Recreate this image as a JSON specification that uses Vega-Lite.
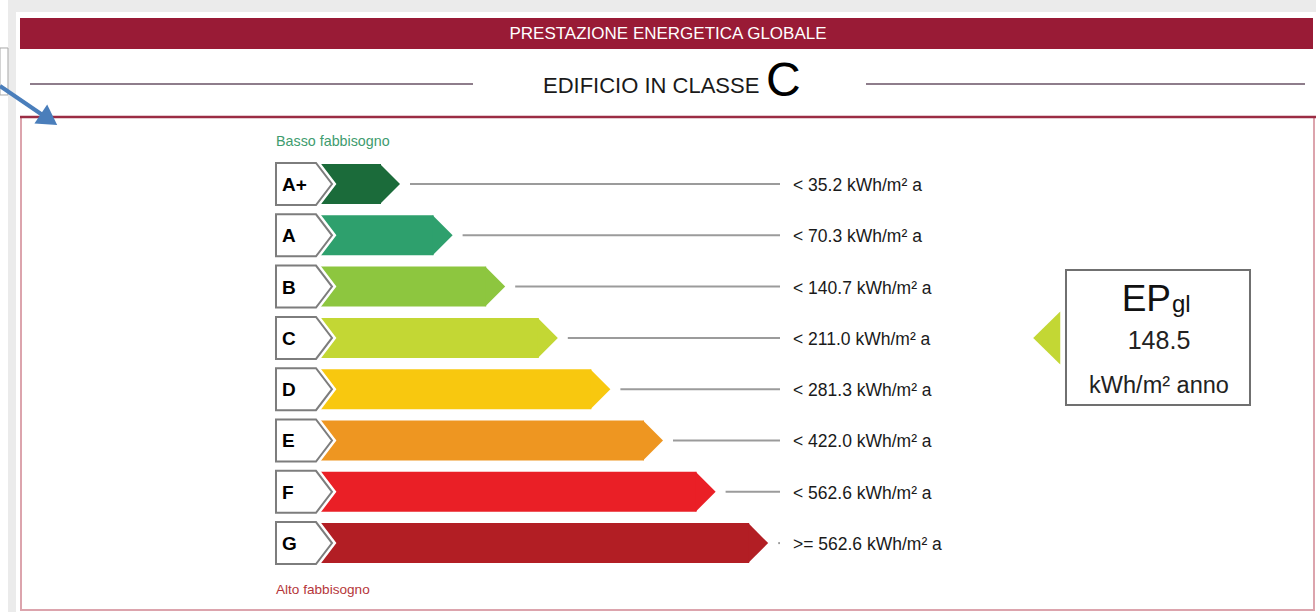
{
  "$schema": "https://vega.github.io/schema/vega-lite/v6.json",
  "width": 1316,
  "height": 612,
  "autosize": "none",
  "padding": 0,
  "background": "#ffffff",
  "view": {"stroke": null},
  "config": {"text": {"font": "Liberation Sans"}},
  "datasets": {
    "classes": [
      {"cls": "A+", "rank": 1, "limit": 35.2, "label": "< 35.2 kWh/m² a"},
      {"cls": "A", "rank": 2, "limit": 70.3, "label": "< 70.3 kWh/m² a"},
      {"cls": "B", "rank": 3, "limit": 140.7, "label": "< 140.7 kWh/m² a"},
      {"cls": "C", "rank": 4, "limit": 211.0, "label": "< 211.0 kWh/m² a"},
      {"cls": "D", "rank": 5, "limit": 281.3, "label": "< 281.3 kWh/m² a"},
      {"cls": "E", "rank": 6, "limit": 422.0, "label": "< 422.0 kWh/m² a"},
      {"cls": "F", "rank": 7, "limit": 562.6, "label": "< 562.6 kWh/m² a"},
      {"cls": "G", "rank": 8, "limit": 562.6, "label": ">= 562.6 kWh/m² a"}
    ],
    "ep": [
      {"cls": "C", "rank": 4, "value": 148.5, "unit": "kWh/m² anno"}
    ]
  },
  "data": {"values": [{}]},
  "layer": [
    {
      "mark": {"type": "rect", "fill": "#ebebeb"},
      "encoding": {
        "x": {"datum": -6.0913, "type": "quantitative", "scale": {"domain": [-6.2433, 18.7757], "nice": false, "zero": false}, "axis": null},
        "x2": {"datum": 18.7757},
        "y": {"datum": -2.5867, "type": "quantitative", "scale": {"domain": [-2.5867, 9.3431], "nice": false, "zero": false, "reverse": true}, "axis": null},
        "y2": {"datum": 9.3431}
      }
    },
    {
      "mark": {"type": "rect", "fill": "#ffffff"},
      "encoding": {
        "x": {"datum": -5.9392, "type": "quantitative", "scale": {"domain": [-6.2433, 18.7757], "nice": false, "zero": false}, "axis": null},
        "x2": {"datum": 18.7757},
        "y": {"datum": -2.3528, "type": "quantitative", "scale": {"domain": [-2.5867, 9.3431], "nice": false, "zero": false, "reverse": true}, "axis": null},
        "y2": {"datum": 9.3431}
      }
    },
    {
      "mark": {"type": "rect", "fill": "#ffffff", "stroke": "#a8a8a8", "strokeWidth": 1},
      "encoding": {
        "x": {"datum": -6.2433, "type": "quantitative", "scale": {"domain": [-6.2433, 18.7757], "nice": false, "zero": false}, "axis": null},
        "x2": {"datum": -6.0913},
        "y": {"datum": -1.6511, "type": "quantitative", "scale": {"domain": [-2.5867, 9.3431], "nice": false, "zero": false, "reverse": true}, "axis": null},
        "y2": {"datum": -0.7349}
      }
    },
    {
      "mark": {"type": "rect", "fill": "#991b36"},
      "encoding": {
        "x": {"datum": -5.8631, "type": "quantitative", "scale": {"domain": [-6.2433, 18.7757], "nice": false, "zero": false}, "axis": null},
        "x2": {"datum": 18.7186},
        "y": {"datum": -2.2359, "type": "quantitative", "scale": {"domain": [-2.5867, 9.3431], "nice": false, "zero": false, "reverse": true}, "axis": null},
        "y2": {"datum": -1.6316}
      }
    },
    {
      "mark": {"type": "text", "fill": "#ffffff", "fontSize": 17, "align": "center", "baseline": "middle"},
      "encoding": {
        "x": {"datum": 6.4563, "type": "quantitative", "scale": {"domain": [-6.2433, 18.7757], "nice": false, "zero": false}, "axis": null},
        "y": {"datum": -1.9240, "type": "quantitative", "scale": {"domain": [-2.5867, 9.3431], "nice": false, "zero": false, "reverse": true}, "axis": null},
        "text": {"value": "PRESTAZIONE ENERGETICA GLOBALE"}
      }
    },
    {
      "mark": {"type": "rule", "stroke": "#8e7d8b", "strokeWidth": 2},
      "encoding": {
        "x": {"datum": -5.6730, "type": "quantitative", "scale": {"domain": [-6.2433, 18.7757], "nice": false, "zero": false}, "axis": null},
        "x2": {"datum": 2.7490},
        "y": {"datum": -0.9493, "type": "quantitative", "scale": {"domain": [-2.5867, 9.3431], "nice": false, "zero": false, "reverse": true}, "axis": null}
      }
    },
    {
      "mark": {"type": "rule", "stroke": "#8e7d8b", "strokeWidth": 2},
      "encoding": {
        "x": {"datum": 10.2205, "type": "quantitative", "scale": {"domain": [-6.2433, 18.7757], "nice": false, "zero": false}, "axis": null},
        "x2": {"datum": 18.5665},
        "y": {"datum": -0.9493, "type": "quantitative", "scale": {"domain": [-2.5867, 9.3431], "nice": false, "zero": false, "reverse": true}, "axis": null}
      }
    },
    {
      "mark": {"type": "text", "fill": "#1a1a1a", "fontSize": 22, "align": "left", "baseline": "middle"},
      "encoding": {
        "x": {"datum": 4.0798, "type": "quantitative", "scale": {"domain": [-6.2433, 18.7757], "nice": false, "zero": false}, "axis": null},
        "y": {"datum": -0.9103, "type": "quantitative", "scale": {"domain": [-2.5867, 9.3431], "nice": false, "zero": false, "reverse": true}, "axis": null},
        "text": {"value": "EDIFICIO IN CLASSE"}
      }
    },
    {
      "mark": {"type": "text", "fill": "#000000", "fontSize": 48, "align": "left", "baseline": "middle"},
      "encoding": {
        "x": {"datum": 8.3194, "type": "quantitative", "scale": {"domain": [-6.2433, 18.7757], "nice": false, "zero": false}, "axis": null},
        "y": {"datum": -0.9883, "type": "quantitative", "scale": {"domain": [-2.5867, 9.3431], "nice": false, "zero": false, "reverse": true}, "axis": null},
        "text": {"value": "C"}
      }
    },
    {
      "mark": {"type": "rect", "fillOpacity": 0, "stroke": "#dca4ad", "strokeWidth": 2},
      "encoding": {
        "x": {"datum": -5.8441, "type": "quantitative", "scale": {"domain": [-6.2433, 18.7757], "nice": false, "zero": false}, "axis": null},
        "x2": {"datum": 18.7376},
        "y": {"datum": -0.3060, "type": "quantitative", "scale": {"domain": [-2.5867, 9.3431], "nice": false, "zero": false, "reverse": true}, "axis": null},
        "y2": {"datum": 9.3041}
      }
    },
    {
      "mark": {"type": "rule", "stroke": "#9b2c44", "strokeWidth": 2.5},
      "encoding": {
        "x": {"datum": -5.8631, "type": "quantitative", "scale": {"domain": [-6.2433, 18.7757], "nice": false, "zero": false}, "axis": null},
        "x2": {"datum": 18.7757},
        "y": {"datum": -0.3060, "type": "quantitative", "scale": {"domain": [-2.5867, 9.3431], "nice": false, "zero": false, "reverse": true}, "axis": null}
      }
    },
    {
      "mark": {"type": "rule", "stroke": "#4a7ebb", "strokeWidth": 4},
      "encoding": {
        "x": {"datum": -6.2433, "type": "quantitative", "scale": {"domain": [-6.2433, 18.7757], "nice": false, "zero": false}, "axis": null},
        "x2": {"datum": -5.4068},
        "y": {"datum": -0.9103, "type": "quantitative", "scale": {"domain": [-2.5867, 9.3431], "nice": false, "zero": false, "reverse": true}, "axis": null},
        "y2": {"datum": -0.3255}
      }
    },
    {
      "mark": {"type": "point", "shape": "triangle-right", "angle": 34, "size": 520, "filled": true, "fill": "#4a7ebb", "opacity": 1},
      "encoding": {
        "x": {"datum": -5.3118, "type": "quantitative", "scale": {"domain": [-6.2433, 18.7757], "nice": false, "zero": false}, "axis": null},
        "y": {"datum": -0.2573, "type": "quantitative", "scale": {"domain": [-2.5867, 9.3431], "nice": false, "zero": false, "reverse": true}, "axis": null}
      }
    },
    {
      "mark": {"type": "text", "fill": "#3e9c6e", "fontSize": 14.3, "align": "left", "baseline": "middle"},
      "encoding": {
        "x": {"datum": -0.9962, "type": "quantitative", "scale": {"domain": [-6.2433, 18.7757], "nice": false, "zero": false}, "axis": null},
        "y": {"datum": 0.1813, "type": "quantitative", "scale": {"domain": [-2.5867, 9.3431], "nice": false, "zero": false, "reverse": true}, "axis": null},
        "text": {"value": "Basso fabbisogno"}
      }
    },
    {
      "mark": {"type": "text", "fill": "#b5363a", "fontSize": 13.6, "align": "left", "baseline": "middle"},
      "encoding": {
        "x": {"datum": -0.9962, "type": "quantitative", "scale": {"domain": [-6.2433, 18.7757], "nice": false, "zero": false}, "axis": null},
        "y": {"datum": 8.9142, "type": "quantitative", "scale": {"domain": [-2.5867, 9.3431], "nice": false, "zero": false, "reverse": true}, "axis": null},
        "text": {"value": "Alto fabbisogno"}
      }
    },
    {
      "data": {"name": "classes"},
      "mark": {"type": "rule", "stroke": "#9b9b9b", "strokeWidth": 2, "xOffset": 29},
      "encoding": {
        "x": {"field": "rank", "type": "quantitative", "scale": {"domain": [-6.2433, 18.7757], "nice": false, "zero": false}, "axis": null},
        "x2": {"datum": 8.5856},
        "y": {"field": "rank", "type": "quantitative", "scale": {"domain": [-2.5867, 9.3431], "nice": false, "zero": false, "reverse": true}, "axis": null}
      }
    },
    {
      "data": {"name": "classes"},
      "mark": {"type": "rect", "yOffset": -20, "y2Offset": 20},
      "encoding": {
        "x": {"field": "rank", "type": "quantitative", "scale": {"domain": [-6.2433, 18.7757], "nice": false, "zero": false}, "axis": null},
        "x2": {"datum": -0.1977},
        "y": {"field": "rank", "type": "quantitative", "scale": {"domain": [-2.5867, 9.3431], "nice": false, "zero": false, "reverse": true}, "axis": null},
        "y2": {"field": "rank"},
        "color": {"field": "cls", "type": "nominal", "scale": {"domain": ["A+", "A", "B", "C", "D", "E", "F", "G"], "range": ["#1b6b3a", "#2ea06d", "#8dc63f", "#c3d734", "#f8c80f", "#ee9621", "#ea1f26", "#b21e24"]}, "legend": null}
      }
    },
    {
      "data": {"name": "classes"},
      "mark": {"type": "point", "shape": "M-0.05,-1L0.95,0L-0.05,1Z", "size": 1600, "filled": true, "opacity": 1, "strokeWidth": 0},
      "encoding": {
        "x": {"field": "rank", "type": "quantitative", "scale": {"domain": [-6.2433, 18.7757], "nice": false, "zero": false}, "axis": null},
        "y": {"field": "rank", "type": "quantitative", "scale": {"domain": [-2.5867, 9.3431], "nice": false, "zero": false, "reverse": true}, "axis": null},
        "color": {"field": "cls", "type": "nominal", "scale": {"domain": ["A+", "A", "B", "C", "D", "E", "F", "G"], "range": ["#1b6b3a", "#2ea06d", "#8dc63f", "#c3d734", "#f8c80f", "#ee9621", "#ea1f26", "#b21e24"]}, "legend": null}
      }
    },
    {
      "data": {"name": "classes"},
      "mark": {"type": "point", "shape": "M-1,-1L0.905,-1L1.667,0L0.905,1L-1,1Z", "size": 1764, "filled": true, "fill": "#ffffff", "stroke": "#ffffff", "strokeWidth": 7, "opacity": 1},
      "encoding": {
        "x": {"datum": -0.5970, "type": "quantitative", "scale": {"domain": [-6.2433, 18.7757], "nice": false, "zero": false}, "axis": null},
        "y": {"field": "rank", "type": "quantitative", "scale": {"domain": [-2.5867, 9.3431], "nice": false, "zero": false, "reverse": true}, "axis": null}
      }
    },
    {
      "data": {"name": "classes"},
      "mark": {"type": "point", "shape": "M-1,-1L0.905,-1L1.667,0L0.905,1L-1,1Z", "size": 1764, "filled": true, "fill": "#ffffff", "stroke": "#7d7d7d", "strokeWidth": 2, "opacity": 1},
      "encoding": {
        "x": {"datum": -0.5970, "type": "quantitative", "scale": {"domain": [-6.2433, 18.7757], "nice": false, "zero": false}, "axis": null},
        "y": {"field": "rank", "type": "quantitative", "scale": {"domain": [-2.5867, 9.3431], "nice": false, "zero": false, "reverse": true}, "axis": null}
      }
    },
    {
      "data": {"name": "classes"},
      "mark": {"type": "text", "fill": "#000000", "fontSize": 19, "fontWeight": "bold", "align": "left", "baseline": "middle", "yOffset": 1},
      "encoding": {
        "x": {"datum": -0.8821, "type": "quantitative", "scale": {"domain": [-6.2433, 18.7757], "nice": false, "zero": false}, "axis": null},
        "y": {"field": "rank", "type": "quantitative", "scale": {"domain": [-2.5867, 9.3431], "nice": false, "zero": false, "reverse": true}, "axis": null},
        "text": {"field": "cls"}
      }
    },
    {
      "data": {"name": "classes"},
      "mark": {"type": "text", "fill": "#1a1a1a", "fontSize": 17.5, "align": "left", "baseline": "middle", "yOffset": 2},
      "encoding": {
        "x": {"datum": 8.8327, "type": "quantitative", "scale": {"domain": [-6.2433, 18.7757], "nice": false, "zero": false}, "axis": null},
        "y": {"field": "rank", "type": "quantitative", "scale": {"domain": [-2.5867, 9.3431], "nice": false, "zero": false, "reverse": true}, "axis": null},
        "text": {"field": "label"}
      }
    },
    {
      "data": {"name": "ep"},
      "mark": {"type": "rect", "fill": "#ffffff", "stroke": "#707070", "strokeWidth": 2, "yOffset": -68, "y2Offset": 67},
      "encoding": {
        "x": {"datum": 14.0228, "type": "quantitative", "scale": {"domain": [-6.2433, 18.7757], "nice": false, "zero": false}, "axis": null},
        "x2": {"datum": 17.5209},
        "y": {"field": "rank", "type": "quantitative", "scale": {"domain": [-2.5867, 9.3431], "nice": false, "zero": false, "reverse": true}, "axis": null},
        "y2": {"field": "rank"}
      }
    },
    {
      "data": {"name": "ep"},
      "mark": {"type": "point", "shape": "M0.5,-1L-0.52,0L0.5,1Z", "size": 2809, "filled": true, "opacity": 1, "strokeWidth": 0},
      "encoding": {
        "x": {"datum": 13.6616, "type": "quantitative", "scale": {"domain": [-6.2433, 18.7757], "nice": false, "zero": false}, "axis": null},
        "y": {"field": "rank", "type": "quantitative", "scale": {"domain": [-2.5867, 9.3431], "nice": false, "zero": false, "reverse": true}, "axis": null},
        "color": {"field": "cls", "type": "nominal", "scale": {"domain": ["A+", "A", "B", "C", "D", "E", "F", "G"], "range": ["#1b6b3a", "#2ea06d", "#8dc63f", "#c3d734", "#f8c80f", "#ee9621", "#ea1f26", "#b21e24"]}, "legend": null}
      }
    },
    {
      "data": {"name": "ep"},
      "mark": {"type": "text", "fill": "#111111", "fontSize": 37, "align": "right", "baseline": "alphabetic", "yOffset": -27},
      "encoding": {
        "x": {"datum": 16.0190, "type": "quantitative", "scale": {"domain": [-6.2433, 18.7757], "nice": false, "zero": false}, "axis": null},
        "y": {"field": "rank", "type": "quantitative", "scale": {"domain": [-2.5867, 9.3431], "nice": false, "zero": false, "reverse": true}, "axis": null},
        "text": {"value": "EP"}
      }
    },
    {
      "data": {"name": "ep"},
      "mark": {"type": "text", "fill": "#111111", "fontSize": 24, "align": "left", "baseline": "alphabetic", "yOffset": -26},
      "encoding": {
        "x": {"datum": 16.0380, "type": "quantitative", "scale": {"domain": [-6.2433, 18.7757], "nice": false, "zero": false}, "axis": null},
        "y": {"field": "rank", "type": "quantitative", "scale": {"domain": [-2.5867, 9.3431], "nice": false, "zero": false, "reverse": true}, "axis": null},
        "text": {"value": "gl"}
      }
    },
    {
      "data": {"name": "ep"},
      "mark": {"type": "text", "fill": "#222222", "fontSize": 25, "align": "center", "baseline": "alphabetic", "yOffset": 11.5},
      "encoding": {
        "x": {"datum": 15.7909, "type": "quantitative", "scale": {"domain": [-6.2433, 18.7757], "nice": false, "zero": false}, "axis": null},
        "y": {"field": "rank", "type": "quantitative", "scale": {"domain": [-2.5867, 9.3431], "nice": false, "zero": false, "reverse": true}, "axis": null},
        "text": {"field": "value", "type": "quantitative", "format": ".1f"}
      }
    },
    {
      "data": {"name": "ep"},
      "mark": {"type": "text", "fill": "#222222", "fontSize": 23.5, "align": "center", "baseline": "alphabetic", "yOffset": 55},
      "encoding": {
        "x": {"datum": 15.7909, "type": "quantitative", "scale": {"domain": [-6.2433, 18.7757], "nice": false, "zero": false}, "axis": null},
        "y": {"field": "rank", "type": "quantitative", "scale": {"domain": [-2.5867, 9.3431], "nice": false, "zero": false, "reverse": true}, "axis": null},
        "text": {"field": "unit"}
      }
    }
  ]
}
